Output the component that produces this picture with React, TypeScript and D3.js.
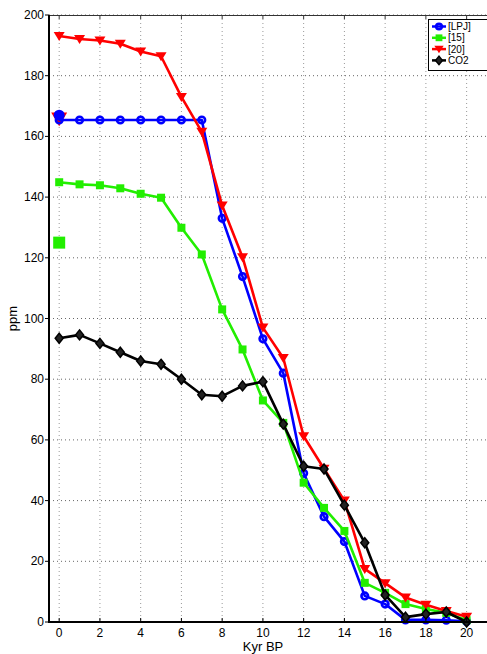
import React, { useEffect, useRef } from 'react';
import * as d3 from 'd3';

const kyr = [0, 1, 2, 3, 4, 5, 6, 7, 8, 9, 10, 11, 12, 13, 14, 15, 16, 17, 18, 19, 20];
const lpj = [165.4, 165.4, 165.4, 165.4, 165.4, 165.4, 165.4, 165.4, 133, 113.8, 93.3, 82, 49, 34.7, 26.5, 8.6, 5.9, 0.7, 0.7, 0.6, 0.2];
const ref15 = [144.9, 144.2, 143.9, 142.9, 141.1, 139.8, 129.9, 121.1, 103, 89.8, 73, 65.6, 45.9, 37.6, 30, 12.9, 9.6, 5.9, 4.3, 3, 0.6];
const ref20 = [193.1, 192.1, 191.6, 190.5, 188, 186.4, 173, 161.5, 137.2, 120.2, 97, 87, 61.2, 50.5, 40, 17.5, 12.8, 8.1, 5.7, 3.6, 1.7];
const co2 = [93.5, 94.6, 91.8, 88.9, 86, 84.9, 80, 74.9, 74.4, 77.8, 79.2, 65.2, 51.3, 50.4, 38.5, 26.1, 8.9, 1.6, 2.6, 3.3, 0];
// single big markers at present day
const presentLpj = 167;
const present15 = 125;
const present20 = 167;

const xTicks = [0, 2, 4, 6, 8, 10, 12, 14, 16, 18, 20];
const yTicks = [0, 20, 40, 60, 80, 100, 120, 140, 160, 180, 200];
const seriesNames = ['[LPJ]', '[15]', '[20]', 'CO2'];

const App = () => {
  const chartRef = useRef<SVGSVGElement>(null);
  const width = 487;
  const height = 654;

  useEffect(() => {
    const svg = d3.select(chartRef.current);
    svg.selectAll('*').remove();

    const marginLeft = 49;
    const marginTop = 15;
    const plotBottom = 622;

    const x = d3.scaleLinear().domain([-0.5, 21]).range([marginLeft, width]);
    const y = d3.scaleLinear().domain([0, 200]).range([plotBottom, marginTop]);
    const font = 'Liberation Sans, Arial, sans-serif';

    svg.append('rect').attr('width', width).attr('height', height).attr('fill', 'white');

    // grid
    svg.append('g')
      .selectAll('line')
      .data(xTicks)
      .join('line')
      .attr('x1', d => x(d)).attr('x2', d => x(d))
      .attr('y1', marginTop).attr('y2', plotBottom)
      .attr('stroke', '#999').attr('stroke-width', 1)
      .attr('stroke-dasharray', '1,3');
    svg.append('g')
      .selectAll('line')
      .data(yTicks.slice(1))
      .join('line')
      .attr('x1', marginLeft).attr('x2', width)
      .attr('y1', d => y(d)).attr('y2', d => y(d))
      .attr('stroke', '#666').attr('stroke-width', 1)
      .attr('stroke-dasharray', '1,3');

    // top border with ticks
    svg.append('line')
      .attr('x1', marginLeft).attr('x2', width)
      .attr('y1', marginTop + 0.5).attr('y2', marginTop + 0.5)
      .attr('stroke', '#333').attr('stroke-width', 1);
    svg.append('g')
      .selectAll('line')
      .data(xTicks)
      .join('line')
      .attr('x1', d => x(d)).attr('x2', d => x(d))
      .attr('y1', marginTop).attr('y2', marginTop + 4)
      .attr('stroke', '#333');

    const line = (vals: number[]) => d3.line<number>()
      .x((_, i) => x(kyr[i]))
      .y(d => y(d))(vals);

    const colors = ['#0000ff', '#22ee00', '#ff0000', '#000000'];
    const allSeries = [lpj, ref15, ref20, co2];

    // big present-day markers
    svg.append('path')
      .attr('d', d3.symbol().type(d3.symbolTriangle).size(110)())
      .attr('transform', `translate(${x(0)},${y(present20) + 2}) rotate(180)`)
      .attr('fill', colors[2]);
    svg.append('rect')
      .attr('x', x(0) - 6).attr('y', y(present15) - 6)
      .attr('width', 12).attr('height', 12)
      .attr('fill', colors[1]);

    const drawMarker = (g: any, type: number, cx: number, cy: number, scale = 1) => {
      if (type === 0) {
        g.append('circle').attr('cx', cx).attr('cy', cy).attr('r', 3.3 * scale)
          .attr('fill', 'none').attr('stroke', colors[0]).attr('stroke-width', 2.6);
      } else if (type === 1) {
        g.append('rect').attr('x', cx - 4 * scale).attr('y', cy - 4 * scale)
          .attr('width', 8 * scale).attr('height', 8 * scale).attr('fill', colors[1]);
      } else if (type === 2) {
        g.append('path').attr('d', `M${cx - 5.5 * scale},${cy - 4 * scale}L${cx + 5.5 * scale},${cy - 4 * scale}L${cx},${cy + 5 * scale}Z`)
          .attr('fill', colors[2]);
      } else {
        g.append('path').attr('d', `M${cx},${cy - 5 * scale}L${cx + 4 * scale},${cy}L${cx},${cy + 5 * scale}L${cx - 4 * scale},${cy}Z`)
          .attr('fill', '#222').attr('stroke', colors[3]).attr('stroke-width', 1.5);
      }
    };

    allSeries.forEach((vals, s) => {
      const g = svg.append('g');
      g.append('path')
        .attr('d', line(vals))
        .attr('fill', 'none')
        .attr('stroke', colors[s])
        .attr('stroke-width', 2.6)
        .attr('stroke-linejoin', 'round');
      vals.forEach((v, i) => drawMarker(g, s, x(kyr[i]), y(v)));
      if (s === 0) {
        g.append('circle').attr('cx', x(0)).attr('cy', y(presentLpj)).attr('r', 5.5).attr('fill', colors[0]);
      }
    });

    // axes
    svg.append('line')
      .attr('x1', marginLeft).attr('x2', marginLeft)
      .attr('y1', marginTop).attr('y2', plotBottom + 1)
      .attr('stroke', 'black').attr('stroke-width', 2);
    svg.append('line')
      .attr('x1', marginLeft - 1).attr('x2', width)
      .attr('y1', plotBottom).attr('y2', plotBottom)
      .attr('stroke', 'black').attr('stroke-width', 2);

    svg.append('g')
      .selectAll('line')
      .data(xTicks)
      .join('line')
      .attr('x1', d => x(d)).attr('x2', d => x(d))
      .attr('y1', plotBottom).attr('y2', plotBottom - 4)
      .attr('stroke', 'black');
    svg.append('g')
      .selectAll('line')
      .data(yTicks)
      .join('line')
      .attr('x1', marginLeft - 4).attr('x2', marginLeft)
      .attr('y1', d => y(d)).attr('y2', d => y(d))
      .attr('stroke', 'black');

    svg.append('g')
      .selectAll('text')
      .data(xTicks)
      .join('text')
      .attr('x', d => x(d)).attr('y', plotBottom + 15)
      .attr('text-anchor', 'middle')
      .attr('font-family', font).attr('font-size', 12)
      .text(d => d);
    svg.append('g')
      .selectAll('text')
      .data(yTicks)
      .join('text')
      .attr('x', marginLeft - 5).attr('y', d => y(d) + 4)
      .attr('text-anchor', 'end')
      .attr('font-family', font).attr('font-size', 12)
      .text(d => d);

    svg.append('text')
      .attr('x', 263).attr('y', 651)
      .attr('text-anchor', 'middle')
      .attr('font-family', font).attr('font-size', 13)
      .text('Kyr BP');
    svg.append('text')
      .attr('transform', `translate(17,${y(100)}) rotate(-90)`)
      .attr('text-anchor', 'middle')
      .attr('font-family', font).attr('font-size', 13)
      .text('ppm');

    // legend
    const lg = svg.append('g');
    lg.append('rect')
      .attr('x', 428.5).attr('y', 19.5).attr('width', 60).attr('height', 51)
      .attr('fill', 'white').attr('stroke', 'black').attr('stroke-width', 1);
    seriesNames.forEach((name, i) => {
      const ly = 26.5 + i * 11.3;
      lg.append('line')
        .attr('x1', 432).attr('x2', 446).attr('y1', ly).attr('y2', ly)
        .attr('stroke', colors[i]).attr('stroke-width', 2.5);
      drawMarker(lg, i, 439, ly, 0.85);
      lg.append('text')
        .attr('x', 448).attr('y', ly + 3.5)
        .attr('font-family', font).attr('font-size', 10)
        .text(name);
    });
  }, []);

  return (
    <svg ref={chartRef} width={width} height={height}
      style={{ position: 'absolute', left: 0, top: 0 }} />
  );
};

export default App;
